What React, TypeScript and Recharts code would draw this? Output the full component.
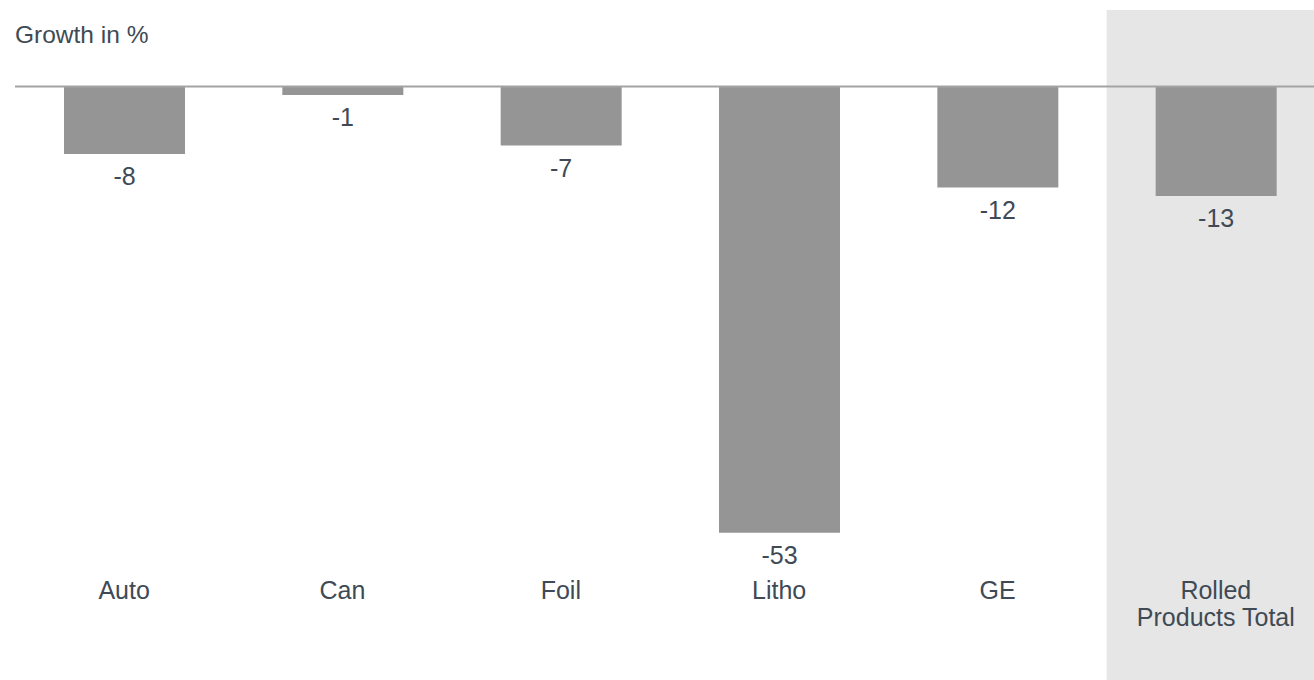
import { Bar, BarChart, LabelList, ReferenceArea, ReferenceLine, XAxis, YAxis } from "recharts";

const categories = ["Auto", "Can", "Foil", "Litho", "GE", "Rolled Products Total"];
const growth = [-8, -1, -7, -53, -12, -13];
const highlighted = "Rolled Products Total";
const yDomain: [number, number] = [-70.5, 9.1];

const data = categories.map((name, i) => ({ name, growth: growth[i] }));

const TEXT = "#404a55";
const FONT = "'Liberation Sans', Arial, sans-serif";

// category names sit inside the plot, just below the longest bar
function CategoryTick({ x, payload }: any) {
  const value = String(payload?.value ?? "");
  const words = value.split(" ");
  const lines = words.length > 2 ? [words[0], words.slice(1).join(" ")] : [value];
  return (
    <text x={x} y={599} textAnchor="middle" fill={TEXT} fontSize={25} fontFamily={FONT}>
      {lines.map((line, i) => (
        <tspan key={line} x={x} dy={i === 0 ? 0 : 27}>
          {line}
        </tspan>
      ))}
    </text>
  );
}

function ValueLabel({ x, y, width, height, value }: any) {
  const bottom = Math.max(Number(y), Number(y) + Number(height));
  return (
    <text
      x={Number(x) + Number(width) / 2}
      y={bottom + 31}
      textAnchor="middle"
      fill={TEXT}
      fontSize={25}
      fontFamily={FONT}
    >
      {value}
    </text>
  );
}

export default function App() {
  return (
    <div
      style={{
        position: "absolute",
        left: 0,
        top: 0,
        width: 1314,
        height: 680,
        overflow: "hidden",
        background: "#fff",
      }}
    >
      <div
        style={{
          position: "absolute",
          left: 15,
          top: 21,
          fontFamily: FONT,
          fontSize: 24.5,
          color: TEXT,
          zIndex: 2,
        }}
      >
        Growth in %
      </div>
      <BarChart
        width={1340}
        height={690}
        data={data}
        margin={{ top: 10, right: 15, bottom: 0, left: 15 }}
      >
        <ReferenceArea x1={highlighted} x2={highlighted} fill="#e6e6e6" fillOpacity={1} stroke="none" />
        <XAxis
          dataKey="name"
          height={10}
          axisLine={false}
          tickLine={false}
          interval={0}
          tick={<CategoryTick />}
        />
        <YAxis hide domain={yDomain} />
        <Bar dataKey="growth" fill="#959595" barSize={121} isAnimationActive={false}>
          <LabelList dataKey="growth" content={<ValueLabel />} />
        </Bar>
        <ReferenceLine y={0} stroke="#a3a3a3" strokeWidth={2} />
      </BarChart>
    </div>
  );
}
